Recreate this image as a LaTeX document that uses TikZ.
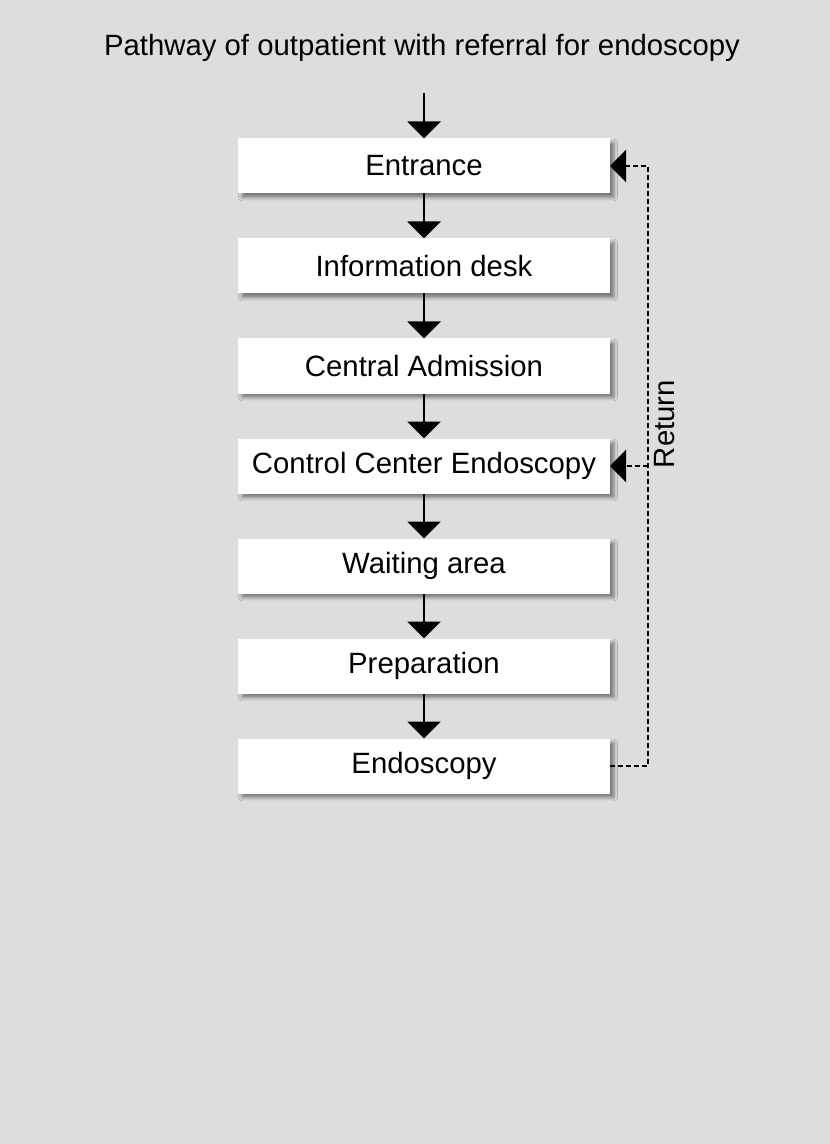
\documentclass[tikz,border=0pt]{standalone}
\usepackage{fontspec}
\setmainfont{Liberation Sans}
\usetikzlibrary{positioning,arrows.meta,shadows.blur}
\definecolor{panelgray}{RGB}{221,221,221}

\begin{document}
\begin{tikzpicture}[x=0.75pt,y=-0.75pt,
  every node/.style={font=\fontsize{22}{26}\selectfont},
  stage/.style={fill=white,minimum width=279pt,minimum height=41.25pt,inner sep=0pt,outer sep=0pt,
    blur shadow={shadow xshift=3pt,shadow yshift=-3pt,shadow blur radius=2.5pt,shadow opacity=45}},
  flow/.style={line width=1.8pt,-{Triangle[width=24.75pt,length=12.75pt]}},
  back/.style={line width=2pt,dash pattern=on 3.75pt off 2.25pt,-{Triangle[width=24pt,length=12pt]}},
  node distance=33.75pt]
  % panel
  \fill[panelgray] (0,0) rectangle (830,1144);
  \node (title) at (422,48) {Pathway of outpatient with referral for endoscopy};

  % stages
  \node[stage] (entrance) at (424,166) {Entrance};
  \node[stage,below=of entrance] (info) {Information desk};
  \node[stage,below=of info] (admit) {Central Admission};
  \node[stage,below=of admit] (control) {Control Center Endoscopy};
  \node[stage,below=of control] (waiting) {Waiting area};
  \node[stage,below=of waiting] (prep) {Preparation};
  \node[stage,below=of prep] (endo) {Endoscopy};

  % main flow
  \coordinate (start) at (424,93);
  \draw[flow] (start) -- (entrance);
  \draw[flow] (entrance) -- (info);
  \draw[flow] (info) -- (admit);
  \draw[flow] (admit) -- (control);
  \draw[flow] (control) -- (waiting);
  \draw[flow] (waiting) -- (prep);
  \draw[flow] (prep) -- (endo);

  % return
  \coordinate (retcorner) at ([xshift=28.5pt]endo.east);
  \draw[back] (endo.east) -- (retcorner) |- (entrance.east);
  \draw[back] (retcorner |- control.east) -- (control.east);
  \node[rotate=90] (retlabel) at (665,424) {Return};
\end{tikzpicture}
\end{document}
